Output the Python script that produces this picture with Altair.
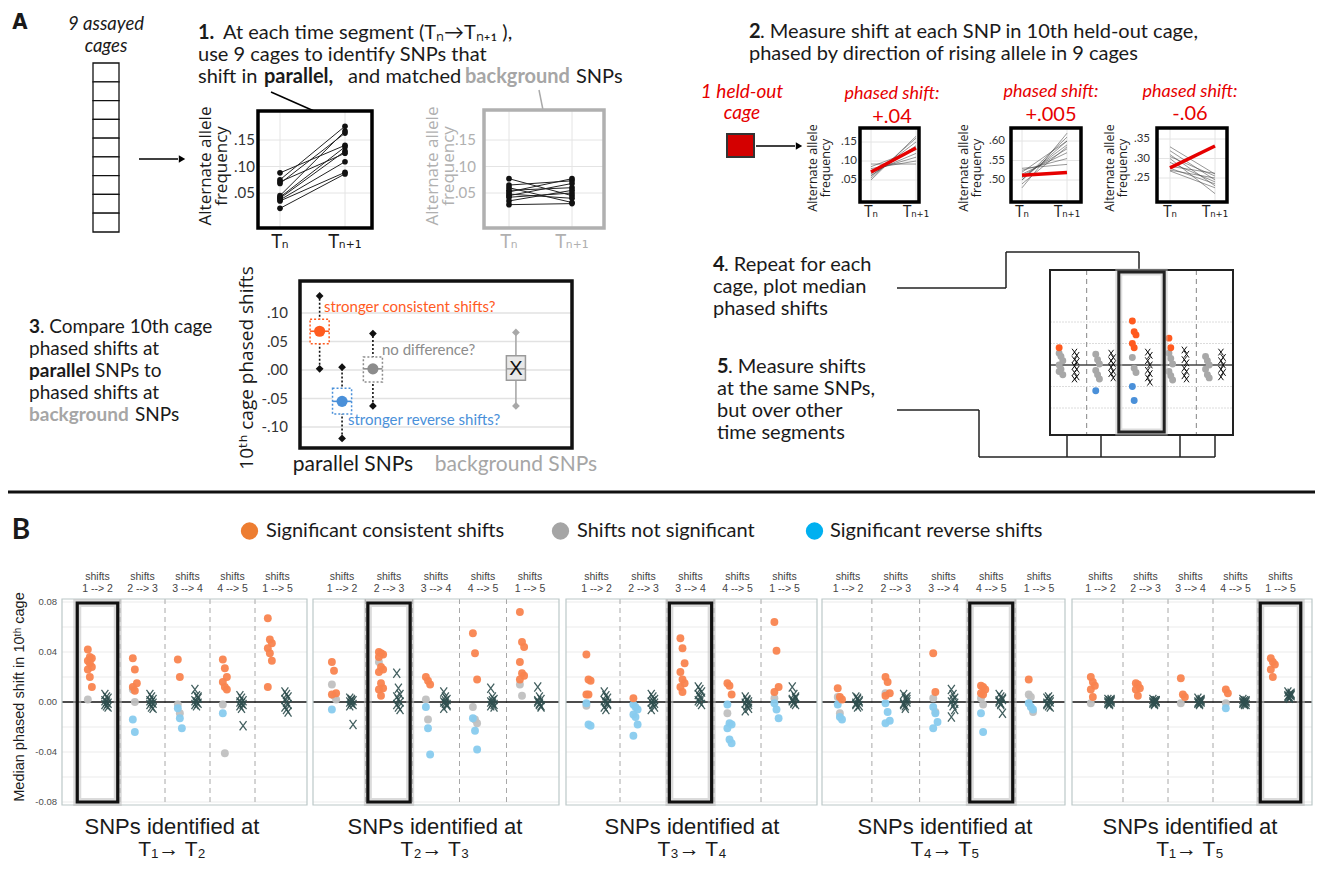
import altair as alt
import pandas as pd

# ======================= values =======================
# ---- Panel A, step 1: allele frequencies at T_n and T_n+1
T_LABELS = ["Tₙ", "Tₙ₊₁"]
A_PAR_TN = [0.088, 0.075, 0.071, 0.068, 0.045, 0.042, 0.040, 0.037, 0.035, 0.021]
A_PAR_TN1 = [0.140, 0.176, 0.125, 0.163, 0.167, 0.137, 0.129, 0.109, 0.089, 0.086]
A_BG_TN = [0.077, 0.065, 0.060, 0.055, 0.052, 0.048, 0.045, 0.042, 0.035, 0.028]
A_BG_TN1 = [0.045, 0.073, 0.032, 0.060, 0.077, 0.040, 0.068, 0.050, 0.055, 0.030]
A_YTICKS = [0.05, 0.10, 0.15]
A_YTICK_LABELS = [".05", ".10", ".15"]
N_CAGES = 9

# ---- Panel A, step 2: held-out cage examples
M1_TN = [0.050, 0.055, 0.060, 0.062, 0.066, 0.070, 0.075, 0.080, 0.085, 0.092]
M1_TN1 = [0.165, 0.160, 0.150, 0.140, 0.135, 0.120, 0.110, 0.100, 0.130, 0.092]
M1_RED = [0.071, 0.134]
M1_TICKS, M1_TICK_LABELS = [0.05, 0.10, 0.15], [".05", ".10", ".15"]
M2_TN = [0.480, 0.500, 0.505, 0.510, 0.515, 0.520, 0.525, 0.530, 0.500, 0.490]
M2_TN1 = [0.620, 0.600, 0.590, 0.580, 0.570, 0.600, 0.555, 0.540, 0.610, 0.585]
M2_RED = [0.512, 0.519]
M2_TICKS, M2_TICK_LABELS = [0.50, 0.55, 0.60], [".50", ".55", ".60"]
M3_TN = [0.330, 0.320, 0.310, 0.305, 0.300, 0.290, 0.280, 0.275, 0.270, 0.268]
M3_TN1 = [0.260, 0.245, 0.230, 0.255, 0.210, 0.240, 0.262, 0.235, 0.250, 0.225]
M3_RED = [0.276, 0.332]
M3_TICKS, M3_TICK_LABELS = [0.25, 0.30, 0.35], [".25", ".30", ".35"]
PHASED_SHIFTS = ["+.04", "+.005", "-.06"]

# ---- Panel A, step 3: schematic box plots
BOX_CATS = ["consistent", "reverse", "none", "background"]
BOX_LO = [0.002, -0.120, -0.063, -0.063]
BOX_HI = [0.130, 0.005, 0.064, 0.066]
BOX_Q1 = [0.046, -0.077, -0.021, -0.018]
BOX_Q3 = [0.089, -0.032, 0.023, 0.025]
BOX_MID = [0.068, -0.055, 0.002, 0.002]
BOX_YTICKS = [0.10, 0.05, 0.0, -0.05, -0.10]
BOX_YTICK_LABELS = [".10", ".05", ".00", "-.05", "-.10"]

# ---- Panel A, steps 4/5: schematic median plot
MC_CONSISTENT = [[0.016], [], [0.041, 0.031, 0.028, 0.020, 0.016], [0.025, 0.016], []]
MC_NONSIG = [[0.011, 0.008, 0.004, 0.0, -0.004, -0.009, -0.006],
             [0.010, 0.005, 0.001, -0.005, -0.009, -0.013],
             [0.007, -0.003, -0.007],
             [0.011, 0.006, 0.001, -0.006, -0.010, -0.014],
             [0.008, 0.004, 0.000, -0.004, -0.009, -0.012]]
MC_REVERSE = [[], [-0.024], [-0.020, -0.033], [], []]
MC_BACKGROUND = [[0.012, 0.009, 0.005, 0.003, -0.001, -0.004, -0.007, -0.011, -0.013],
                 [0.011, 0.007, 0.004, 0.001, -0.002, -0.006, -0.008, -0.012],
                 [0.012, 0.009, 0.004, 0.000, -0.005, -0.008, -0.012, -0.016],
                 [0.014, 0.010, 0.005, 0.002, -0.003, -0.006, -0.010, -0.013],
                 [0.012, 0.007, 0.004, 0.000, -0.004, -0.007, -0.011]]

# ---- Panel B
CAT_ORDER = ["none", "reverse", "consistent"]
LEGEND_LABELS = ["Significant consistent shifts", "Shifts not significant", "Significant reverse shifts"]
SEGMENTS = ["1 --> 2", "2 --> 3", "3 --> 4", "4 --> 5", "1 --> 5"]
PANEL_TITLES = ["T₁→ T₂", "T₂→ T₃", "T₃→ T₄", "T₄→ T₅", "T₁→ T₅"]
HIGHLIGHT = [0, 1, 2, 3, 4]
B_YTICKS = [0.08, 0.04, 0.0, -0.04, -0.08]
B_YTICK_LABELS = ["0.08", "0.04", "0.00", "-0.04", "-0.08"]
B_GRID = [-0.08, -0.06, -0.04, -0.02, 0.02, 0.04, 0.06, 0.08]

B_CONSISTENT = [
    [[.042, .036, .035, .033, .031, .028, .026, .020, .012], [.035, .026, .015, .012, .009], [.034, .020],
     [.034, .027, .020, .016, .012, .010], [.067, .050, .047, .043, .039, .033, .012]],
    [[.032, .025, .007, .006], [.040, .039, .038, .036, .028, .026, .024, .015, .011, .010, .005], [.020, .017, .014],
     [.055, .039, .018], [.072, .048, .044, .032, .023, .021, .018]],
    [[.038, .018, .017, .006, .006], [.003], [.051, .043, .031, .024, .018, .015, .012, .008], [.015, .013, .006],
     [.064, .041, .012, .008]],
    [[.011, .004, .002], [.020, .016, .007, .005], [.039, .008], [.013, .012, .010, .007, .006], [.018]],
    [[.020, .016, .013, .010, .004], [.015, .014, .011, .010, .005], [.019, .006, .004], [.010, .007],
     [.035, .032, .030, .026, .020]],
]
B_NONSIG = [
    [[.002], [.010, .000], [-.002, -.009], [-.002, -.041], []],
    [[.014, .005, .002], [.032], [.002, -.014], [-.004, -.014, -.017], [.014, .005]],
    [[-.003], [], [], [-.009], [.003]],
    [[.004, -.009], [.007], [.003, -.008], [.003, -.002], [.006, .004, -.008]],
    [[-.001], [], [-.001], [-.001], []],
]
B_REVERSE = [
    [[], [-.014, -.024], [-.005, -.013, -.021], [-.009], []],
    [[-.006], [], [-.004, -.021, -.042], [-.013, -.023, -.038], []],
    [[-.001, -.018, -.019], [-.002, -.004, -.006, -.010, -.012, -.018, -.027], [],
     [-.002, -.017, -.018, -.021, -.030, -.033], [-.001, -.006, -.013]],
    [[-.002, -.012, -.014], [-.001, -.008, -.015, -.017], [-.004, -.009, -.016, -.021], [-.009, -.024],
     [-.001, -.004, -.006]],
    [[], [], [], [-.005], []],
]
B_BACKGROUND = [
    [[.006, .004, .003, .001, 0, -.001, -.002, -.003, -.004], [.006, .004, .002, .001, 0, -.001, -.002, -.004, -.005],
     [.010, .005, .003, .001, 0, -.001, -.002, -.003, .004], [.005, .003, .001, 0, -.001, -.002, -.003, -.005, -.019],
     [.008, .006, .004, .002, 0, -.002, -.004, -.006, -.008]],
    [[.003, .002, .001, 0, -.001, -.002, -.003, .001, -.018], [.023, .011, .006, .004, .002, 0, -.002, -.004, -.006],
     [.008, .004, .002, 0, -.001, -.003, -.005, .001, -.002], [.011, .004, .002, 0, -.001, -.002, -.003, .001, -.004],
     [.012, .004, .002, 0, -.001, -.003, .001, -.002, -.004]],
    [[.008, .005, .003, .001, 0, -.002, -.004, -.006, -.001], [.006, .004, .002, 0, -.002, -.004, -.006, .001, -.001],
     [.012, .010, .008, .006, .004, .003, .001, 0, -.002], [.004, .002, 0, -.001, -.003, -.005, -.007, .001, -.002],
     [.012, .006, .004, .002, 0, -.002, .001, -.001, .003]],
    [[.004, .002, 0, -.002, -.004, .001, -.001, .003, -.003], [.006, .003, 0, -.002, -.005, .002, -.001, -.003, .004],
     [.010, .006, .003, 0, -.003, -.006, -.012, .002, -.001], [.006, .004, .002, 0, -.002, -.009, .001, -.001, .003],
     [.003, .001, 0, -.001, -.003, .002, -.002, .004, -.004]],
    [[.002, .001, 0, -.001, -.002, .001, 0, -.001, .002], [.002, .001, 0, -.001, -.002, .001, 0, -.001, .001],
     [.003, .001, 0, -.001, -.002, .002, 0, -.001, .001], [.002, .001, 0, -.001, -.002, .001, 0, -.001, -.002],
     [.008, .006, .005, .004, .003, .006, .005, .004, .007]],
]

# ======================= layout / style =======================
OX = OY = 8
W, H = 1307, 854


def px(x):
    return x - OX


def py(y):
    return y - OY


FONT = "Lato, 'Open Sans', 'DejaVu Sans', sans-serif"
GEO = "'Open Sans', 'DejaVu Sans', sans-serif"
NARROW = "'Liberation Sans Narrow', 'DejaVu Sans Condensed', 'Liberation Sans', sans-serif"
ARIAL = "'Liberation Sans', Arial, 'DejaVu Sans', sans-serif"
INK = "#1a1a1a"
RED = "#e60000"
GRAYTXT = "#a6a6a6"
ONE = pd.DataFrame({"d": [0]})
XPATH = "M-0.75,-1L0.75,1M0.75,-1L-0.75,1"
B_COLORS = ["#c0c0c0", "#88cbee", "#f9844f"]          # none, reverse, consistent
LEG_COLORS = ["#ed7d31", "#a5a5a5", "#00b0f0"]
MC_COLORS = ["#a8a8a8", "#4a90d9", "#ff5a1f"]
B_GEOM = [(62, 307, 97.5, 277.5), (313, 559, 342, 530), (566, 817, 596.5, 784.5),
          (822, 1065, 848, 1039), (1072, 1312, 1100.5, 1280.5)]
B_TITLE_X = [172, 435, 692, 945, 1190]


def T(t, x, y, size=20, color=INK, weight="normal", style="normal", align="left",
      font=FONT, angle=0, baseline="middle"):
    kw = dict(text=t, fontSize=size, color=color, fontWeight=weight, fontStyle=style,
              align=align, baseline=baseline, font=font)
    if angle:
        kw["angle"] = angle
    return alt.Chart(ONE).mark_text(**kw).encode(x=alt.value(px(x)), y=alt.value(py(y)))


def L(x1, y1, x2, y2, color="black", w=1.5, dash=None):
    kw = dict(color=color, strokeWidth=w)
    if dash:
        kw["strokeDash"] = dash
    return alt.Chart(ONE).mark_rule(**kw).encode(
        x=alt.value(px(x1)), y=alt.value(py(y1)), x2=alt.value(px(x2)), y2=alt.value(py(y2)))


def R(x1, y1, x2, y2, stroke="black", w=1.0, fill="transparent", dash=None, sop=1.0):
    kw = dict(fill=fill, stroke=stroke, strokeWidth=w, strokeOpacity=sop)
    if dash:
        kw["strokeDash"] = dash
    return alt.Chart(ONE).mark_rect(**kw).encode(
        x=alt.value(px(x1)), x2=alt.value(px(x2)), y=alt.value(py(y1)), y2=alt.value(py(y2)))


def ARROW(x1, x2, y):
    return [L(x1, y, x2 - 4, y, w=1.5),
            alt.Chart(ONE).mark_point(shape="triangle-right", filled=True, size=55, color="black",
                                      opacity=1).encode(x=alt.value(px(x2)), y=alt.value(py(y)))]


def lin(domain, rng):
    return alt.Scale(domain=domain, range=rng, nice=False, zero=False)


# ---------------- allele frequency mini-plots ----------------
def allele_plot(tn, tn1, g, ticks, tick_labels, red=None, pts=True, line_color="#222", line_w=1.0,
                line_op=1.0, frame_color="black", frame_w=3.5, tick_size=15, tick_color="#333",
                title_size=17, title_color=INK, tl_size=19, tl_color=INK, grid_color="#e4e4e4"):
    x0, x1, y0, y1 = g["frame"]
    xs = lin([0, 1], [px(g["xt"][0]), px(g["xt"][1])])
    ys = lin([g["yc"][0], g["yc"][2]], [py(g["yc"][1]), py(g["yc"][3])])

    def X(f):
        return alt.X(f, type="quantitative", scale=xs, axis=None)

    def Y(f):
        return alt.Y(f, type="quantitative", scale=ys, axis=None)

    n = len(tn)
    df = pd.DataFrame({"pair": list(range(n)) * 2, "t": [0] * n + [1] * n, "f": list(tn) + list(tn1)})
    tdf = pd.DataFrame({"v": ticks, "lab": tick_labels})
    xdf = pd.DataFrame({"t": [0, 1], "lab": T_LABELS})
    lay = [
        alt.Chart(tdf).mark_rule(color=grid_color, strokeWidth=1).encode(
            y=Y("v"), x=alt.value(px(x0)), x2=alt.value(px(x1))),
        alt.Chart(xdf).mark_rule(color=grid_color, strokeWidth=1).encode(
            x=X("t"), y=alt.value(py(y0)), y2=alt.value(py(y1))),
        alt.Chart(df).mark_line(color=line_color, strokeWidth=line_w, opacity=line_op).encode(
            x=X("t"), y=Y("f"), detail="pair:N"),
    ]
    if pts:
        lay.append(alt.Chart(df).mark_circle(color="#111", size=32, opacity=1).encode(x=X("t"), y=Y("f")))
    if red:
        lay.append(alt.Chart(pd.DataFrame({"t": [0, 1], "f": red})).mark_line(
            color=RED, strokeWidth=3.5).encode(x=X("t"), y=Y("f")))
    lay.append(alt.Chart(tdf).mark_text(align="right", baseline="middle", font=FONT, fontSize=tick_size,
                                        color=tick_color).encode(
        y=Y("v"), x=alt.value(px(g["tick_r"])), text="lab:N"))
    lay.append(alt.Chart(xdf).mark_text(align="center", baseline="middle", font=NARROW, fontSize=tl_size,
                                        color=tl_color).encode(
        x=X("t"), y=alt.value(py(g["tl_y"])), text="lab:N"))
    lay.append(R(x0, y0, x1, y1, stroke=frame_color, w=frame_w))
    lay.append(T("Alternate allele", g["title_x"][0], g["title_y"], size=title_size, color=title_color,
                 align="center", font=GEO, angle=270))
    lay.append(T("frequency", g["title_x"][1], g["title_y"], size=title_size, color=title_color,
                 align="center", font=GEO, angle=270))
    return alt.layer(*lay)


G_PAR = dict(frame=(258, 372, 111, 228), xt=(280, 345), yc=(0.05, 193, 0.15, 140), tick_r=255, tl_y=242,
             title_x=(206, 222), title_y=166)
G_BG = dict(frame=(484, 604, 110, 228), xt=(509, 572), yc=(0.05, 193, 0.15, 140), tick_r=476, tl_y=242,
            title_x=(433, 449), title_y=166)
G_M1 = dict(frame=(860, 919, 128, 202), xt=(871, 916), yc=(0.05, 180, 0.15, 142), tick_r=857, tl_y=212,
            title_x=(813, 826), title_y=168)
G_M2 = dict(frame=(1011, 1081, 128, 202), xt=(1022, 1067), yc=(0.50, 180, 0.60, 141), tick_r=1005, tl_y=212,
            title_x=(964, 977), title_y=168)
G_M3 = dict(frame=(1157, 1227, 128, 202), xt=(1170, 1215), yc=(0.25, 178, 0.35, 139), tick_r=1150, tl_y=212,
            title_x=(1110, 1123), title_y=168)


# ---------------- step 3 box plot ----------------
def boxplot_group():
    xs = lin([0, 9.7], [px(300), px(572)])
    ys = lin([0, 0.10], [py(370), py(313)])
    slots = [0.7, 1.5, 2.6, 7.7]

    def X(f):
        return alt.X(f, type="quantitative", scale=xs, axis=None)

    def Y(f):
        return alt.Y(f, type="quantitative", scale=ys, axis=None)

    df = pd.DataFrame({"cat": BOX_CATS, "slot": slots, "lo": BOX_LO, "hi": BOX_HI, "q1": BOX_Q1,
                       "q3": BOX_Q3, "mid": BOX_MID})
    df["xl"] = df["slot"] - 0.34
    df["xr"] = df["slot"] + 0.34
    par = df[df["cat"] != "background"]
    bg = df[df["cat"] == "background"]
    ends = pd.concat([df[["cat", "slot"]].assign(v=df["lo"]), df[["cat", "slot"]].assign(v=df["hi"])])
    cs = alt.Scale(domain=BOX_CATS, range=["#ff5b1f", "#4a90d9", "#8c8c8c", "#a0a0a0"])
    tdf = pd.DataFrame({"v": BOX_YTICKS, "lab": BOX_YTICK_LABELS})
    lay = [
        alt.Chart(tdf).mark_rule(color="#e2e2e2", strokeWidth=1.5).encode(
            y=Y("v"), x=alt.value(px(300)), x2=alt.value(px(572))),
        alt.Chart(tdf).mark_text(align="right", baseline="middle", font=FONT, fontSize=15, color="#333").encode(
            y=Y("v"), x=alt.value(px(288)), text="lab:N"),
        alt.Chart(par).mark_rule(color="#111", strokeWidth=1.6, strokeDash=[2, 2]).encode(
            x=X("slot"), y=Y("lo"), y2=alt.Y2("hi")),
        alt.Chart(bg).mark_rule(color="#a8a8a8", strokeWidth=1.6).encode(x=X("slot"), y=Y("lo"), y2=alt.Y2("hi")),
        alt.Chart(ends[ends["cat"] != "background"]).mark_point(shape="diamond", filled=True, size=60,
                                                               color="#111", opacity=1).encode(
            x=X("slot"), y=Y("v")),
        alt.Chart(ends[ends["cat"] == "background"]).mark_point(shape="diamond", filled=True, size=60,
                                                               color="#a8a8a8", opacity=1).encode(
            x=X("slot"), y=Y("v")),
        alt.Chart(par).mark_rect(fill="white", strokeWidth=1.5, strokeDash=[2, 2]).encode(
            x=X("xl"), x2=alt.X2("xr"), y=Y("q1"), y2=alt.Y2("q3"),
            stroke=alt.Stroke("cat:N", scale=cs, legend=None)),
        alt.Chart(par).mark_rule(strokeWidth=1.6).encode(
            x=X("xl"), x2=alt.X2("xr"), y=Y("mid"), color=alt.Color("cat:N", scale=cs, legend=None)),
        alt.Chart(par).mark_circle(size=125, opacity=1).encode(
            x=X("slot"), y=Y("mid"), color=alt.Color("cat:N", scale=cs, legend=None)),
        alt.Chart(bg).mark_rect(fill="#e8e8e8", stroke="#9a9a9a", strokeWidth=1.5).encode(
            x=X("xl"), x2=alt.X2("xr"), y=Y("q1"), y2=alt.Y2("q3")),
        alt.Chart(bg).mark_rule(color="#9a9a9a", strokeWidth=1.5).encode(
            x=X("xl"), x2=alt.X2("xr"), y=Y("mid")),
        alt.Chart(bg).mark_text(text="X", font=ARIAL, fontSize=20, color="#111", baseline="middle").encode(
            x=X("slot"), y=Y("mid")),
    ]
    return alt.layer(*lay)


# ---------------- step 4/5 schematic ----------------
def long_df(cons, nons, rev):
    rows = []
    for c in range(len(cons)):
        for cat, src in zip(CAT_ORDER, [nons, rev, cons]):
            for k, v in enumerate(src[c]):
                rows.append(dict(col=c, k=k, cat=cat, v=v))
    return pd.DataFrame(rows)


def bg_df(bgv):
    rows = []
    for c in range(len(bgv)):
        for k, v in enumerate(bgv[c]):
            rows.append(dict(col=c, k=k, v=v))
    return pd.DataFrame(rows)


def repeat_group():
    xs = lin([0, 4], [px(1068.3), px(1214.7)])
    ys = lin([0, 0.04], [py(365), py(322)])

    def X(f):
        return alt.X(f, type="quantitative", scale=xs, axis=None)

    def Y(f):
        return alt.Y(f, type="quantitative", scale=ys, axis=None)

    x0, x1, y0, y1 = 1050, 1233, 270, 435
    lay = [
        alt.Chart(pd.DataFrame({"v": [0.04, 0.02, -0.02, -0.04]})).mark_rule(
            color="#dcdcdc", strokeWidth=1, strokeDash=[2, 1]).encode(
            y=Y("v"), x=alt.value(px(x0)), x2=alt.value(px(x1))),
        alt.Chart(pd.DataFrame({"s": [0.5, 3.5]})).mark_rule(color="#999", strokeWidth=1.2,
                                                             strokeDash=[5, 4]).encode(
            x=X("s"), y=alt.value(py(y0)), y2=alt.value(py(y1))),
        alt.Chart(pd.DataFrame({"v": [0.0]})).mark_rule(color="#444", strokeWidth=1.5).encode(
            y=Y("v"), x=alt.value(px(x0)), x2=alt.value(px(x1))),
        alt.Chart(long_df(MC_CONSISTENT, MC_NONSIG, MC_REVERSE)).transform_calculate(
            xp="datum.col - 0.2 + ((datum.k % 3) - 1) * 0.05").mark_circle(size=48, opacity=1).encode(
            x=X("xp"), y=Y("v"), color=alt.Color("cat:N", scale=alt.Scale(domain=CAT_ORDER, range=MC_COLORS),
                                                 legend=None)),
        alt.Chart(bg_df(MC_BACKGROUND)).transform_calculate(
            xp="datum.col + 0.2 + ((datum.k % 2) - 0.5) * 0.06").mark_point(
            shape=XPATH, filled=False, size=45, strokeWidth=1, color="#111", opacity=1).encode(
            x=X("xp"), y=Y("v")),
        R(x0, y0, x1, y1, stroke="#222", w=2),
    ]
    hb = alt.Chart(pd.DataFrame({"c": [2]})).transform_calculate(lo="datum.c - 0.62", hi="datum.c + 0.62")
    lay.append(hb.mark_rect(fill="transparent", stroke="#bbbbbb", strokeWidth=7, strokeOpacity=0.5).encode(
        x=X("lo"), x2=alt.X2("hi"), y=alt.value(py(272)), y2=alt.value(py(432))))
    lay.append(hb.mark_rect(fill="transparent", stroke="#222", strokeWidth=3).encode(
        x=X("lo"), x2=alt.X2("hi"), y=alt.value(py(272)), y2=alt.value(py(432))))
    return alt.layer(*lay)


# ---------------- panel B ----------------
def panel_b(p):
    L_, R_, c0, c4 = B_GEOM[p]
    xs = lin([0, 4], [px(c0), px(c4)])
    ys = lin([0, 0.08], [py(702), py(602)])

    def X(f):
        return alt.X(f, type="quantitative", scale=xs, axis=None)

    def Y(f):
        return alt.Y(f, type="quantitative", scale=ys, axis=None)

    top, bot = 599, 805
    seps = pd.DataFrame({"s": [i + 0.5 for i in range(len(SEGMENTS) - 1)]})
    hd = pd.DataFrame({"c": list(range(len(SEGMENTS))), "lab": SEGMENTS})
    hb = alt.Chart(pd.DataFrame({"c": [HIGHLIGHT[p]]})).transform_calculate(
        lo="datum.c - 0.45", hi="datum.c + 0.45")
    lay = [
        alt.Chart(pd.DataFrame({"v": B_GRID})).mark_rule(color="#ebebeb", strokeWidth=1).encode(
            y=Y("v"), x=alt.value(px(L_)), x2=alt.value(px(R_))),
        alt.Chart(seps).mark_rule(color="#a8a8a8", strokeWidth=1, strokeDash=[5, 4]).encode(
            x=X("s"), y=alt.value(py(top)), y2=alt.value(py(bot))),
        alt.Chart(pd.DataFrame({"v": [0.0]})).mark_rule(color="#111", strokeWidth=1.4).encode(
            y=Y("v"), x=alt.value(px(L_)), x2=alt.value(px(R_))),
        R(L_, top, R_, bot, stroke="#bcc8c8", w=1.2),
        hb.mark_rect(fill="transparent", stroke="#bdbdbd", strokeWidth=8, strokeOpacity=0.55).encode(
            x=X("lo"), x2=alt.X2("hi"), y=alt.value(py(603)), y2=alt.value(py(802))),
        hb.mark_rect(fill="transparent", stroke="#111", strokeWidth=3.2).encode(
            x=X("lo"), x2=alt.X2("hi"), y=alt.value(py(603)), y2=alt.value(py(802))),
        alt.Chart(long_df(B_CONSISTENT[p], B_NONSIG[p], B_REVERSE[p])).transform_calculate(
            xp="datum.col - 0.17 + ((datum.k % 3) - 1) * 0.045").mark_circle(size=62, opacity=0.95).encode(
            x=X("xp"), y=Y("v"),
            color=alt.Color("cat:N", scale=alt.Scale(domain=CAT_ORDER, range=B_COLORS), legend=None)),
        alt.Chart(bg_df(B_BACKGROUND[p])).transform_calculate(
            xp="datum.col + 0.2 + ((datum.k % 3) - 1) * 0.035").mark_point(
            shape=XPATH, filled=False, size=85, strokeWidth=1.3, color="#2f4f4f", opacity=0.9).encode(
            x=X("xp"), y=Y("v")),
        alt.Chart(hd).mark_text(font=ARIAL, fontSize=10.5, color="#444", baseline="middle").encode(
            x=X("c"), y=alt.value(py(577)), text=alt.value("shifts")),
        alt.Chart(hd).mark_text(font=ARIAL, fontSize=10.5, color="#444", baseline="middle").encode(
            x=X("c"), y=alt.value(py(589)), text="lab:N"),
    ]
    if p == 0:
        lay.append(alt.Chart(pd.DataFrame({"v": B_YTICKS, "lab": B_YTICK_LABELS})).mark_text(
            font=ARIAL, fontSize=9.5, color="#4d4d4d", align="right", baseline="middle").encode(
            y=Y("v"), x=alt.value(px(57)), text="lab:N"))
    lay.append(T("SNPs identified at", B_TITLE_X[p], 827, size=22, font=ARIAL, align="center"))
    lay.append(T(PANEL_TITLES[p], B_TITLE_X[p], 850, size=21, font=ARIAL, align="center"))
    return alt.layer(*lay)


# ======================= assemble =======================
layers = []

# ---- Panel A ----
layers.append(T("A", 20, 22, size=22, weight="bold", font=NARROW, align="center"))
layers.append(T("9 assayed", 106, 24, size=18.5, style="italic", align="center"))
layers.append(T("cages", 106, 46, size=18.5, style="italic", align="center"))
cage_df = pd.DataFrame({"i": list(range(N_CAGES))})
cage_df["i1"] = cage_df["i"] + 1
cys = lin([0, N_CAGES], [py(63), py(232)])
layers.append(alt.Chart(cage_df).mark_rect(fill="white", stroke="#111", strokeWidth=1.3).encode(
    y=alt.Y("i:Q", scale=cys, axis=None), y2=alt.Y2("i1"), x=alt.value(px(93)), x2=alt.value(px(119))))
layers += ARROW(139, 182, 159)

layers.append(T("1.", 198, 33, weight="bold"))
layers.append(T("At each time segment (Tₙ→Tₙ₊₁ ),", 223, 33))
layers.append(T("use 9 cages to identify SNPs that", 198, 55))
layers.append(T("shift in", 198, 77))
layers.append(T("parallel,", 264, 77, weight="bold"))
layers.append(T("and matched", 348, 77))
layers.append(T("background", 465, 77, weight="bold", color=GRAYTXT))
layers.append(T("SNPs", 576, 77))
layers.append(L(271, 92, 314, 111, w=1.5))
layers.append(L(539, 90, 543, 110, color="#aaaaaa", w=1.5))

layers.append(allele_plot(A_PAR_TN, A_PAR_TN1, G_PAR, A_YTICKS, A_YTICK_LABELS))
layers.append(allele_plot(A_BG_TN, A_BG_TN1, G_BG, A_YTICKS, A_YTICK_LABELS, frame_color="#b0b0b0",
                          tick_color="#b0b0b0", title_color="#b0b0b0", tl_color="#b0b0b0"))

layers.append(T("2", 749, 32, weight="bold"))
layers.append(T(". Measure shift at each SNP in 10th held-out cage,", 760, 32))
layers.append(T("phased by direction of rising allele in 9 cages", 749, 54))
layers.append(T("1 held-out", 742, 92, size=19, style="italic", color=RED, align="center"))
layers.append(T("cage", 742, 113, size=19, style="italic", color=RED, align="center"))
layers.append(R(727, 134, 754, 157, stroke="#333", w=2, fill="#d40000"))
layers += ARROW(756, 799, 146)

mini_kw = dict(pts=False, line_color="#444", line_op=0.55, tick_size=11.5, title_size=12.5, tl_size=15)
layers.append(allele_plot(M1_TN, M1_TN1, G_M1, M1_TICKS, M1_TICK_LABELS, red=M1_RED, **mini_kw))
layers.append(allele_plot(M2_TN, M2_TN1, G_M2, M2_TICKS, M2_TICK_LABELS, red=M2_RED, **mini_kw))
layers.append(allele_plot(M3_TN, M3_TN1, G_M3, M3_TICKS, M3_TICK_LABELS, red=M3_RED, **mini_kw))
for cx, ly, vy, lab in zip([892, 1051, 1190], [94, 92, 92], [117, 115, 114], PHASED_SHIFTS):
    layers.append(T("phased shift:", cx, ly, size=18, style="italic", color=RED, align="center"))
    layers.append(T(lab, cx, vy, size=20, color=RED, align="center"))

S3 = 19
layers.append(T("3", 29, 327, size=S3, weight="bold"))
layers.append(T(". Compare 10th cage", 40, 327, size=S3))
layers.append(T("phased shifts at", 29, 349, size=S3))
layers.append(T("parallel", 29, 371, size=S3, weight="bold"))
layers.append(T("SNPs to", 95, 371, size=S3))
layers.append(T("phased shifts at", 29, 393, size=S3))
layers.append(T("background", 29, 415, size=S3, weight="bold", color=GRAYTXT))
layers.append(T("SNPs", 135, 415, size=S3))

layers.append(boxplot_group())
layers.append(R(300, 281, 572, 448, stroke="#111", w=3.5))
layers.append(T("10ᵗʰ cage phased shifts", 247, 368, size=19, font=GEO, align="center", angle=270))
layers.append(T("stronger consistent shifts?", 324, 307, size=15, color="#ff5b1f"))
layers.append(T("no difference?", 382, 350, size=15, color="#8c8c8c"))
layers.append(T("stronger reverse shifts?", 348, 420, size=15, color="#4a90d9"))
layers.append(T("parallel SNPs", 353, 465, size=21, align="center"))
layers.append(T("background SNPs", 516, 465, size=21, align="center", color=GRAYTXT))

layers.append(T("4", 713, 265, weight="bold"))
layers.append(T(". Repeat for each", 724, 265))
layers.append(T("cage, plot median", 713, 287))
layers.append(T("phased shifts", 713, 309))
layers.append(T("5", 717, 367, weight="bold"))
layers.append(T(". Measure shifts", 728, 367))
layers.append(T("at the same SNPs,", 717, 389))
layers.append(T("but over other", 717, 411))
layers.append(T("time segments", 717, 433))
for seg in [(897, 288, 1006, 288), (1006, 288, 1006, 252), (1006, 252, 1139, 252), (1139, 252, 1139, 272),
            (897, 410, 979, 410), (979, 410, 979, 457), (979, 457, 1215, 457)]:
    layers.append(L(*seg, color="#222", w=1.5))
for xv in [1067, 1101, 1180, 1215]:
    layers.append(L(xv, 435, xv, 457, color="#222", w=1.5))
layers.append(repeat_group())

# ---- Panel B ----
layers.append(L(8, 492, 1315, 492, color="#111", w=3))
layers.append(T("B", 21, 531, size=28, weight="bold", align="center"))
for cx, tx, col, lab in zip([249.5, 560.5, 814.5], [266, 577, 830], LEG_COLORS, LEGEND_LABELS):
    layers.append(alt.Chart(ONE).mark_circle(size=300, color=col, opacity=1).encode(
        x=alt.value(px(cx)), y=alt.value(py(531))))
    layers.append(T(lab, tx, 531, size=20))
layers.append(T("Median phased shift in 10ᵗʰ cage", 20, 697, size=14.5, font=ARIAL, align="center", angle=270))
for p in range(len(B_GEOM)):
    layers.append(panel_b(p))

chart = alt.layer(*layers).resolve_scale(
    x="independent", y="independent", color="independent", stroke="independent"
).properties(
    width=W, height=H, padding=0, autosize=alt.AutoSizeParams(type="none")
).configure_view(strokeWidth=0)

chart.save("out.html", embed_options={"renderer": "svg", "actions": False})
